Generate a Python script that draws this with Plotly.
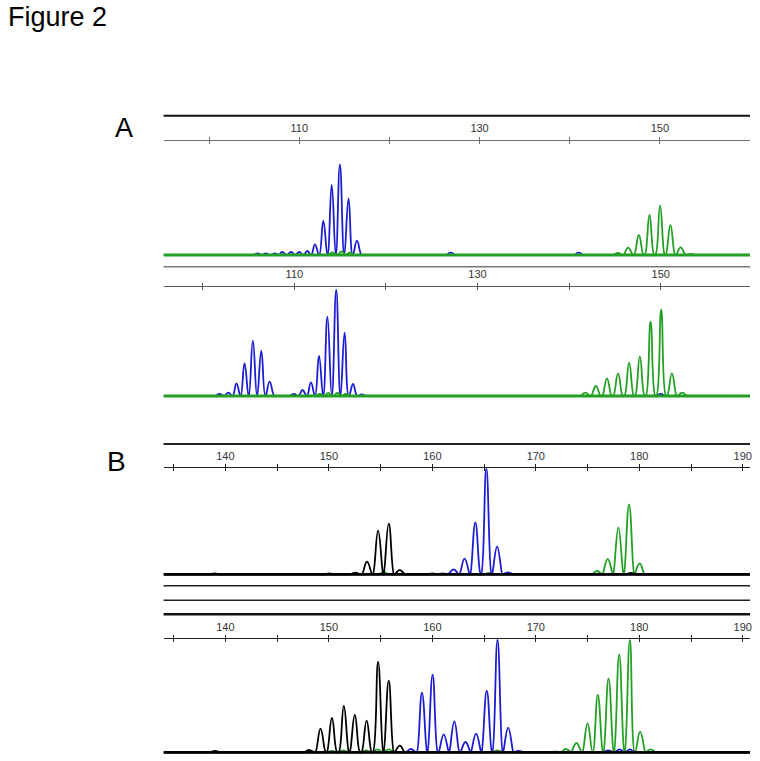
import plotly.graph_objects as go

W, H = 760, 761

# ---------------- data (peak positions in bp, heights in relative units) -------------
a1_blue_pos = [105.4, 106.3, 107.3, 108.1, 109.1, 110.0, 110.9, 111.74, 112.67, 113.6, 114.51, 115.47, 116.4, 126.8, 141.0]
a1_blue_h = [1.5, 1.5, 1.5, 3, 3, 3, 4, 10.7, 34, 70, 90.7, 56.7, 14.3, 2.3, 2.3]
a1_green_pos = [113.7, 114.7, 115.6, 145.34, 146.49, 147.67, 148.85, 150.03, 151.17, 152.31, 153.45]
a1_green_h = [2.5, 3.5, 2.5, 2, 7.3, 20, 40, 49.3, 30, 7.7, 1]

a2_blue_pos = [101.84, 102.8, 103.68, 104.56, 105.47, 106.39, 107.3, 109.98, 110.9, 111.81, 112.69, 113.61, 114.57, 115.49, 116.41, 117.33, 150.0]
a2_blue_h = [2, 3.3, 12.7, 32.7, 55.3, 45, 14.3, 2, 6, 13.7, 40, 79.3, 106, 63.3, 12, 1.5, 2]
a2_green_pos = [112.8, 113.7, 114.7, 115.6, 141.75, 142.92, 144.13, 145.34, 146.55, 147.72, 148.89, 150.05, 151.22, 152.36]
a2_green_h = [2, 3, 3, 2, 3.3, 10, 17.7, 22.7, 33.3, 39.3, 74.3, 86.7, 22.7, 3.3]

b1_black_pos = [139.0, 150.0, 152.55, 153.69, 154.76, 155.79, 156.86, 160.0, 179.2]
b1_black_h = [1, 1, 1.7, 12.7, 43.7, 50.7, 4.3, 1, 1.3]
b1_blue_pos = [161.0, 162.05, 163.12, 164.16, 165.22, 166.26, 167.29]
b1_blue_h = [1, 5, 15.7, 52, 106, 27.7, 2]
b1_green_pos = [155.3, 165.5, 175.91, 176.95, 177.98, 179.01, 180.04]
b1_green_h = [2, 1.5, 3.3, 15.3, 47, 70, 11]

b2_black_pos = [139.0, 148.09, 149.2, 150.3, 151.45, 152.51, 153.65, 154.76, 155.79, 156.86]
b2_black_h = [1.5, 2.3, 23.7, 34.3, 46.3, 37.3, 31.7, 90.7, 71.7, 6.7]
b2_blue_pos = [157.93, 159.0, 160.03, 161.1, 162.13, 163.2, 164.23, 165.26, 166.3, 167.33, 168.36, 177.0, 178.1, 179.1]
b2_blue_h = [3.3, 59.7, 77.7, 18, 31, 10.3, 18.7, 61.7, 112.7, 24.7, 1.5, 2, 3, 3]
b2_green_pos = [150.3, 151.4, 153.6, 154.7, 155.8, 166.3, 171.9, 172.9, 173.93, 175.0, 175.99, 177.03, 178.06, 179.09, 180.08, 181.11]
b2_green_h = [1.5, 2, 2, 3, 3, 2, 1, 3.3, 9.3, 29, 57.3, 74, 98, 112.3, 20.7, 3]

a_tickvals = [100, 110, 120, 130, 140, 150]
a_ticktext = ["", "110", "", "130", "", "150"]
b_tickvals = [135, 140, 145, 150, 155, 160, 165, 170, 175, 180, 185, 190]
b_ticktext = ["", "140", "", "150", "", "160", "", "170", "", "180", "", "190"]

# ---------------- layout helpers -------------
BLUE = "#1c1cd2"
GREEN = "#23a023"
BLACK = "#000000"
X0, X1 = 164, 752


def px_x(x):
    return x / W


def px_y(y):
    return 1 - y / H


def peak_xy(pos, hts, xmin, xmax, w):
    """Trace through each read peak (apex at its height, foot at baseline)."""
    pk = sorted(zip(pos, hts))
    xs, ys = [xmin], [0]
    for i, (p, h) in enumerate(pk):
        left = p - w
        gap_left = i == 0 or (p - pk[i - 1][0]) > 2 * w + 0.3
        if i > 0:
            left = max(left, (pk[i - 1][0] + p) / 2)
        right = p + w
        gap_right = i == len(pk) - 1 or (pk[i + 1][0] - p) > 2 * w + 0.3
        if i < len(pk) - 1:
            right = min(right, (p + pk[i + 1][0]) / 2)
        if gap_left and left - 0.3 > xs[-1] + 1e-6:
            xs.append(left - 0.3)
            ys.append(0)
        if left > xs[-1] + 1e-6:
            xs.append(left)
            ys.append(0)
        xs.append(p)
        ys.append(h)
        xs.append(right)
        ys.append(0)
        if gap_right:
            xs.append(right + 0.3)
            ys.append(0)
    xs.append(xmax)
    ys.append(0)
    return xs, ys


panels = [
    dict(xr=[94.95, 160.0], top=140.7, base=255.0, bot=259.0,
         ch=[(a1_blue_pos, a1_blue_h, BLUE), (a1_green_pos, a1_green_h, GREEN)],
         tv=a_tickvals, tt=a_ticktext, ac="#707070", bc=GREEN, w=0.52),
    dict(xr=[95.72, 159.75], top=286.7, base=396.0, bot=400.0,
         ch=[(a2_blue_pos, a2_blue_h, BLUE), (a2_green_pos, a2_green_h, GREEN)],
         tv=a_tickvals, tt=a_ticktext, ac="#5a5a5a", bc=GREEN, w=0.52),
    dict(xr=[134.03, 190.7], top=468.3, base=574.3, bot=577.5,
         ch=[(b1_green_pos, b1_green_h, GREEN), (b1_blue_pos, b1_blue_h, BLUE), (b1_black_pos, b1_black_h, BLACK)],
         tv=b_tickvals, tt=b_ticktext, ac="#222222", bc=BLACK, w=0.5),
    dict(xr=[134.03, 190.7], top=639.3, base=752.3, bot=756.5,
         ch=[(b2_green_pos, b2_green_h, GREEN), (b2_blue_pos, b2_blue_h, BLUE), (b2_black_pos, b2_black_h, BLACK)],
         tv=b_tickvals, tt=b_ticktext, ac="#222222", bc=BLACK, w=0.5),
]

fig = go.Figure()
layout = dict(width=W, height=H, margin=dict(l=0, r=0, t=0, b=0),
              paper_bgcolor="white", plot_bgcolor="white", showlegend=False)

for i, p in enumerate(panels, start=1):
    xa = "x" if i == 1 else f"x{i}"
    ya = "y" if i == 1 else f"y{i}"
    xo = f"x{i + 4}"
    ppx = p["base"] - p["top"]
    yrange = [-(p["bot"] - p["base"]), ppx]
    for pos, hts, col in p["ch"]:
        xs, ys = peak_xy(pos, hts, p["xr"][0], p["xr"][1], p["w"])
        fig.add_trace(go.Scatter(x=xs, y=ys, mode="lines", xaxis=xa, yaxis=ya,
                                 line=dict(color=col, width=1.8, shape="spline", smoothing=1.3),
                                 hoverinfo="skip"))
    fig.add_trace(go.Scatter(x=p["xr"], y=[0, 0], mode="lines", xaxis=xa, yaxis=ya,
                             line=dict(color=p["bc"], width=2.8), hoverinfo="skip"))
    fig.add_trace(go.Scatter(x=[p["xr"][0]], y=[0], mode="markers", xaxis=xo, yaxis=ya,
                             marker=dict(opacity=0), hoverinfo="skip"))
    dom_x = [px_x(X0), px_x(X1)]
    dom_y = [px_y(p["bot"]), px_y(p["top"])]
    layout["xaxis" if i == 1 else f"xaxis{i}"] = dict(
        domain=dom_x, range=p["xr"], anchor=ya, side="top",
        showline=True, linecolor=p["ac"], linewidth=1.3,
        ticks="outside", ticklen=3, tickwidth=1, tickcolor=p["ac"],
        tickvals=p["tv"], ticktext=p["tt"], showgrid=False, zeroline=False,
        tickfont=dict(family="Liberation Sans, Arial", size=11, color="#333333"))
    layout[f"xaxis{i + 4}"] = dict(
        overlaying=xa, range=p["xr"], anchor=ya, side="top",
        showline=False, ticks="inside", ticklen=3, tickwidth=1, tickcolor=p["ac"],
        tickvals=p["tv"], showticklabels=False, showgrid=False, zeroline=False)
    layout["yaxis" if i == 1 else f"yaxis{i}"] = dict(
        domain=dom_y, range=yrange, anchor=xa, visible=False, showgrid=False, zeroline=False)

shapes = []
for y, col, w in [(115.7, "#111111", 2.0), (266.7, "#777777", 1.6), (444.0, "#222222", 2.0),
                  (585.7, "#222222", 1.4), (600.3, "#222222", 1.4), (614.3, "#111111", 2.6)]:
    shapes.append(dict(type="line", xref="paper", yref="paper", x0=px_x(X0), x1=px_x(X1),
                       y0=px_y(y), y1=px_y(y), line=dict(color=col, width=w)))
layout["shapes"] = shapes

font = "Liberation Sans, Arial"
layout["annotations"] = [
    dict(text="Figure 2", x=px_x(6), y=px_y(17), xref="paper", yref="paper", xanchor="left", yanchor="middle",
         showarrow=False, font=dict(family=font, size=27, color="black")),
    dict(text="A", x=px_x(124.5), y=px_y(128), xref="paper", yref="paper", xanchor="center", yanchor="middle",
         showarrow=False, font=dict(family=font, size=27, color="black")),
    dict(text="B", x=px_x(116.5), y=px_y(461.5), xref="paper", yref="paper", xanchor="center", yanchor="middle",
         showarrow=False, font=dict(family=font, size=28, color="black")),
]

fig.update_layout(**layout)
fig.write_html("out.html", config={"displayModeBar": False},
               post_script="document.body.style.margin='0';document.body.style.overflow='hidden';")
